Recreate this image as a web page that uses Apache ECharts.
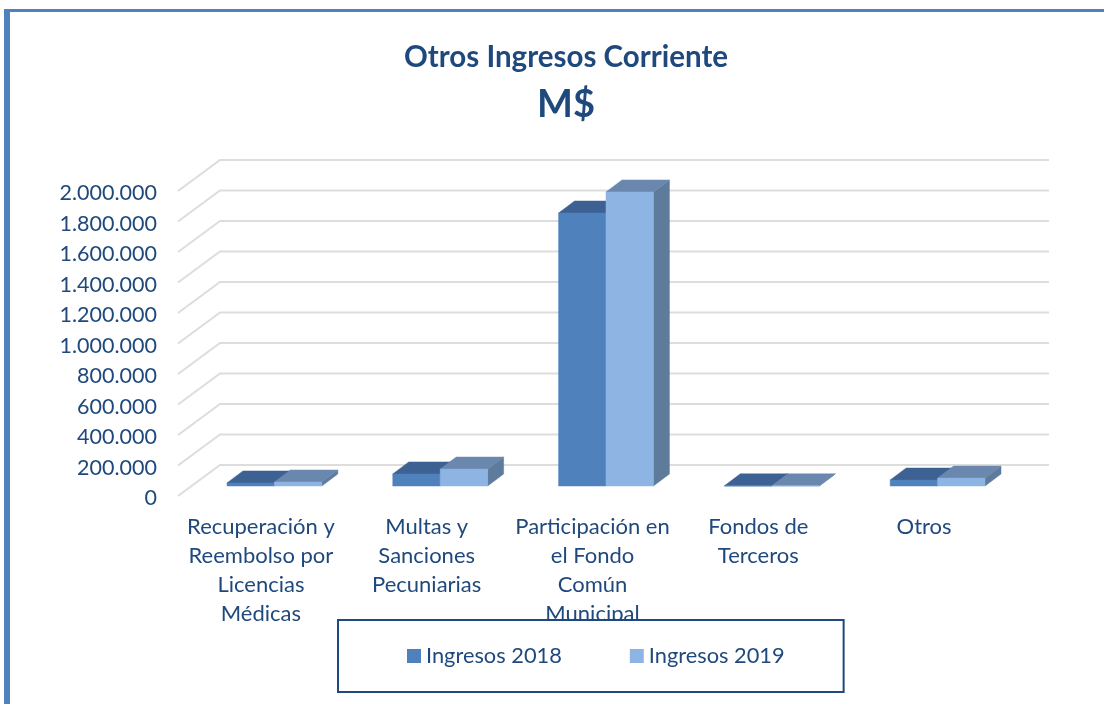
<!DOCTYPE html>
<html>
<head>
<meta charset="utf-8">
<style>
  html, body { margin: 0; padding: 0; background: #fff; }
  #chart { width: 1104px; height: 704px; }
</style>
<script src="https://cdn.jsdelivr.net/npm/echarts@6/dist/echarts.min.js"></script>
</head>
<body>
<div id="chart"></div>
<script>
const categories = [
  "Recuperación y\nReembolso por\nLicencias\nMédicas",
  "Multas y\nSanciones\nPecuniarias",
  "Participación en\nel Fondo\nComún\nMunicipal",
  "Fondos de\nTerceros",
  "Otros",
];
const ingresos2018 = [20000, 79000, 1790000, 1000, 39000];
const ingresos2019 = [26000, 111000, 1928000, 1000, 52000];
const yTicks = [0, 200000, 400000, 600000, 800000, 1000000, 1200000, 1400000, 1600000, 1800000, 2000000];

const textColor = "#1F497D";
const fontFamily = "Lato, Carlito, sans-serif";

// fake 3D: pixel offset of the back wall from the front plane
const wallDx = 42;
const wallDy = -31;

const chart = echarts.init(document.getElementById("chart"), null, { renderer: "canvas" });

const gridLines = (params, api) => {
  const [x0, y0] = api.coord([0, api.value(0)]);
  const band = api.size([1, 0])[0];
  const x1 = x0 - band / 2;
  return {
    type: "polyline",
    silent: true,
    shape: {
      points: [
        [x1, y0],
        [x1 + wallDx, y0 + wallDy],
        [x1 + band * categories.length + wallDx, y0 + wallDy],
      ],
    },
    style: { fill: null, stroke: "#DDDDDD", lineWidth: 2 },
  };
};

const bars = (side, colors) => (params, api) => {
  const band = api.size([1, 0])[0];
  const w = band * 0.286;
  const top = api.coord([api.value(0), api.value(1)]);
  const base = api.coord([api.value(0), 0]);
  // bars sit a third of the way into the floor
  const sx = 13.5;
  const sy = -10;
  const dx = 16;
  const dy = -12;
  const x0 = top[0] + sx + (side < 0 ? -w : 0);
  const x1 = x0 + w;
  const yt = top[1] + sy;
  const yb = base[1] + sy;
  const poly = (points, fill) => ({
    type: "polygon",
    shape: { points },
    style: { fill, stroke: fill, lineWidth: 0.5 },
  });
  return {
    type: "group",
    children: [
      poly([[x1, yt], [x1 + dx, yt + dy], [x1 + dx, yb + dy], [x1, yb]], colors.side),
      poly([[x0, yt], [x1, yt], [x1 + dx, yt + dy], [x0 + dx, yt + dy]], colors.top),
      poly([[x0, yt], [x1, yt], [x1, yb], [x0, yb]], colors.front),
    ],
  };
};

chart.setOption({
  animation: false,
  backgroundColor: "#fff",
  textStyle: { fontFamily },
  title: [
    {
      text: "Otros Ingresos Corriente",
      left: 561,
      top: 37,
      textAlign: "center",
      textStyle: { color: textColor, fontSize: 29.5, fontWeight: "bold", fontFamily },
    },
    {
      text: "M$",
      left: 561,
      top: 81,
      textAlign: "center",
      textStyle: { color: textColor, fontSize: 38, fontWeight: "bold", fontFamily },
    },
  ],
  legend: {
    data: ["Ingresos 2018", "Ingresos 2019"],
    left: 338,
    top: 620,
    padding: [25, 59, 25, 69],
    itemWidth: 14,
    itemHeight: 14,
    itemGap: 68,
    icon: "rect",
    backgroundColor: "#fff",
    borderColor: textColor,
    borderWidth: 2,
    textStyle: { color: textColor, fontSize: 21.8, fontFamily },
  },
  grid: { left: 178, right: 97, top: 191, bottom: 208 },
  xAxis: {
    type: "category",
    data: categories,
    axisLine: { show: false },
    axisTick: { show: false },
    axisLabel: {
      color: textColor,
      fontSize: 22,
      lineHeight: 29,
      margin: 16,
      interval: 0,
      fontFamily,
    },
  },
  yAxis: {
    type: "value",
    min: 0,
    max: 2000000,
    interval: 200000,
    axisLine: { show: false },
    axisTick: { show: false },
    splitLine: { show: false },
    axisLabel: {
      color: textColor,
      fontSize: 21.5,
      margin: 21,
      verticalAlign: "top",
      lineHeight: 5,
      fontFamily,
      formatter: (v) => String(v).replace(/\B(?=(\d{3})+$)/g, "."),
    },
  },
  series: [
    {
      type: "custom",
      name: "grid",
      silent: true,
      clip: false,
      z: 1,
      encode: { y: 0 },
      renderItem: gridLines,
      data: yTicks.map((v) => [v]),
    },
    {
      type: "custom",
      name: "Ingresos 2018",
      clip: false,
      z: 2,
      itemStyle: { color: "#4F81BD" },
      encode: { x: 0, y: 1 },
      renderItem: bars(-1, { front: "#4F81BD", top: "#3C6192", side: "#3C6192" }),
      data: ingresos2018.map((v, i) => [i, v]),
    },
    {
      type: "custom",
      name: "Ingresos 2019",
      clip: false,
      z: 3,
      itemStyle: { color: "#8DB4E2" },
      encode: { x: 0, y: 1 },
      renderItem: bars(1, { front: "#8DB4E2", top: "#6A88AE", side: "#5F7B9C" }),
      data: ingresos2019.map((v, i) => [i, v]),
    },
  ],
  graphic: [
    { type: "rect", z: 10, shape: { x: 4, y: 9, width: 6, height: 695 }, style: { fill: "#4F81BD" } },
    { type: "rect", z: 10, shape: { x: 4, y: 9, width: 1100, height: 3 }, style: { fill: "#4F81BD" } },
  ],
});
</script>
</body>
</html>
